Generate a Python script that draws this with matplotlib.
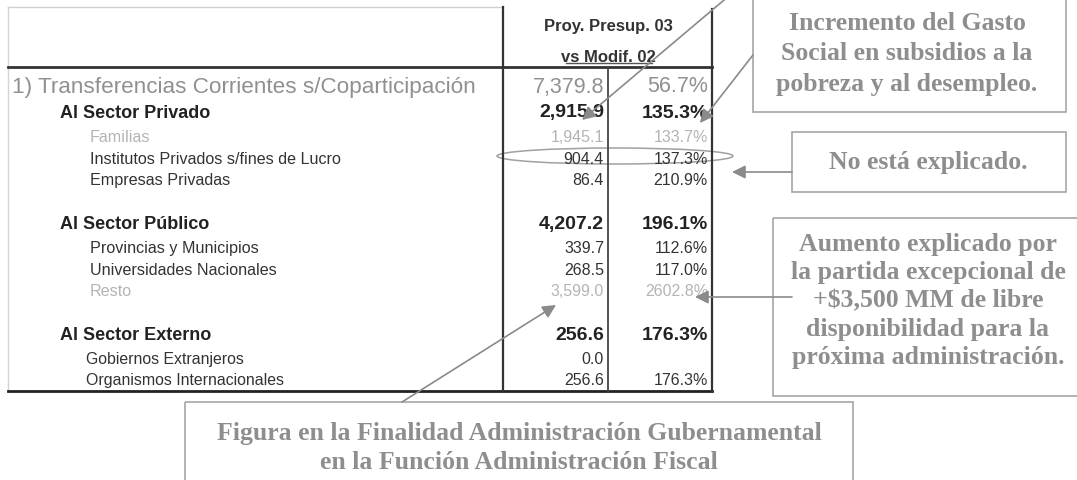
import matplotlib
matplotlib.use("Agg")
import matplotlib.pyplot as plt
from matplotlib.patches import Rectangle, Ellipse

## Donnees du tableau
etiquetas = ["1) Transferencias Corrientes s/Coparticipación",
             "Al Sector Privado", "Familias", "Institutos Privados s/fines de Lucro", "Empresas Privadas",
             "",
             "Al Sector Público", "Provincias y Municipios", "Universidades Nacionales", "Resto",
             "",
             "Al Sector Externo", "Gobiernos Extranjeros", "Organismos Internacionales"]
niveles = [0, 1, 2, 2, 2, None, 1, 2, 2, 2, None, 1, 3, 3]
montos = ["7,379.8", "2,915.9", "1,945.1", "904.4", "86.4", "",
          "4,207.2", "339.7", "268.5", "3,599.0", "",
          "256.6", "0.0", "256.6"]
variacion = ["56.7%", "135.3%", "133.7%", "137.3%", "210.9%", "",
             "196.1%", "112.6%", "117.0%", "2602.8%", "",
             "176.3%", "", "176.3%"]
atenuadas = ["Familias", "Resto"]  # lignes plus pales dans le scan

encabezado = ["Proy. Presup. 03", "vs Modif. 02"]

notas = ["Incremento del Gasto\nSocial en subsidios a la\npobreza y al desempleo.",
         "No está explicado.",
         "Aumento explicado por\nla partida excepcional de\n+$3,500 MM de libre\ndisponibilidad para la\npróxima administración.",
         "Figura en la Finalidad Administración Gubernamental\nen la Función Administración Fiscal"]

## Mise en page (coordonnees pixel)
fig = plt.figure(figsize=(10.77, 4.81), dpi=100)
ax = fig.add_axes([0, 0, 1, 1])
ax.set_xlim(0, 1077)
ax.set_ylim(481, 0)
ax.axis("off")

sans = "Liberation Sans"
serif = "Liberation Serif"
gris_note = "#8e8e8e"
gris_cadre = "#a5a5a5"

# styles par niveau: x, taille label, gras, taille chiffres, couleur
style = {0: (12, 16.2, "normal", 15.5, "#909090"),
         1: (60, 13, "bold", 14, "#222222"),
         2: (90, 11.6, "normal", 11.5, "#333333"),
         3: (86, 11.4, "normal", 11.5, "#333333")}
pas = {0: 26, 1: 24.5, 2: 21.7, 3: 21.3, None: 21.5}

y = 87
for lab, niv, m, v in zip(etiquetas, niveles, montos, variacion):
    if niv is not None:
        x0, fs, fw, fsn, col = style[niv]
        if lab in atenuadas:
            col = "#b4b4b4"
        ax.text(x0, y, lab, fontsize=fs, fontweight=fw, color=col, family=sans, va="center", ha="left")
        ax.text(604, y, m, fontsize=fsn, fontweight=fw, color=col, family=sans, va="center", ha="right")
        ax.text(708, y, v, fontsize=fsn, fontweight=fw, color=col, family=sans, va="center", ha="right")
        y += pas[niv]
    else:
        y += pas[None]

# en-tete
ax.text(608, 27, encabezado[0], fontsize=12, fontweight="bold", color="#333333", family=sans, ha="center", va="center")
ax.text(608, 57, encabezado[1], fontsize=12, fontweight="bold", color="#333333", family=sans, ha="center", va="center")
ax.plot([566, 652], [64, 64], color="#555555", lw=1)

# lignes du tableau
ax.plot([8, 503], [8, 8], color="#d0d0d0", lw=1)
ax.plot([8, 8], [8, 392], color="#d5d5d5", lw=1)
ax.plot([8, 712], [68, 68], color="#333333", lw=2)
ax.plot([8, 712], [392, 392], color="#222222", lw=2)
ax.plot([503, 503], [8, 392], color="#333333", lw=1.6)
ax.plot([608, 608], [68, 392], color="#444444", lw=1.3)
ax.plot([712, 712], [10, 392], color="#333333", lw=1.6)

# cadres des notes
cadres = [(753, -5, 313, 118), (792, 133, 274, 60), (773, 219, 320, 178), (185, 403, 668, 90)]
centres = [(907, 54), (928, 163), (928, 301), (519, 448)]
interl = [1.42, 1.2, 1.3, 1.3]
for (cx, cy, w, h), (tx, ty), n, ls in zip(cadres, centres, notas, interl):
    ax.add_patch(Rectangle((cx, cy), w, h, fill=False, ec=gris_cadre, lw=1.2))
    ax.text(tx, ty, n, fontsize=18.5, fontweight="bold", color=gris_note, family=serif,
            ha="center", va="center", linespacing=ls, multialignment="center")

# fleches
fleches = [((730, -4), (582, 121)), ((753, 56), (700, 124)), ((792, 173), (732, 173)),
           ((792, 298), (695, 298)), ((402, 403), (556, 306))]
for debut, fin in fleches:
    ax.annotate("", xy=fin, xytext=debut,
                arrowprops=dict(arrowstyle="-|>", color="#8a8a8a", lw=1.2, mutation_scale=20,
                                shrinkA=0, shrinkB=0))

ax.add_patch(Ellipse((615, 157), 236, 16, fill=False, ec="#a0a0a0", lw=1.1))

plt.savefig("out.png", dpi=100)
